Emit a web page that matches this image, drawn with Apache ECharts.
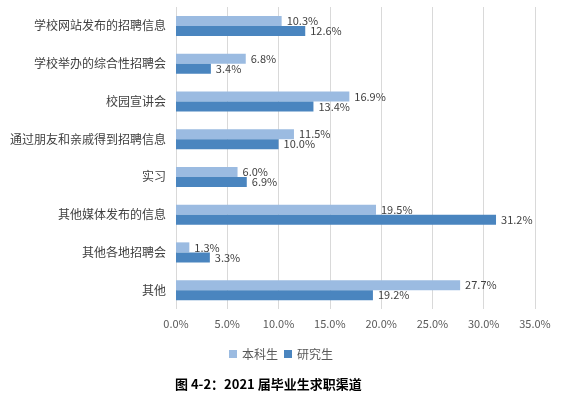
<!DOCTYPE html>
<html>
<head>
<meta charset="utf-8">
<script src="https://cdn.jsdelivr.net/npm/echarts@6/dist/echarts.min.js"></script>
<style>
  html, body { margin: 0; padding: 0; background: #fff; }
  #main { width: 562px; height: 399px; }
</style>
</head>
<body>
<div id="main"></div>
<script>
// 求职渠道
const categories = [
  '学校网站发布的招聘信息',
  '学校举办的综合性招聘会',
  '校园宣讲会',
  '通过朋友和亲戚得到招聘信息',
  '实习',
  '其他媒体发布的信息',
  '其他各地招聘会',
  '其他'
]
const undergrad = [10.3, 6.8, 16.9, 11.5, 6.0, 19.5, 1.3, 27.7]
const graduate = [12.6, 3.4, 13.4, 10.0, 6.9, 31.2, 3.3, 19.2]
const seriesNames = ['本科生', '研究生']
const caption = '图 4-2：2021 届毕业生求职渠道'

const chart = echarts.init(document.getElementById('main'), null, { renderer: 'canvas' })

const labelStyle = {
  show: true,
  position: 'right',
  distance: 5,
  color: '#404040',
  fontSize: 11,
  fontFamily: 'Noto Sans CJK SC',
  formatter(p) {
    return p.value.toFixed(1) + '%'
  }
}

chart.setOption({
  backgroundColor: '#fff',
  animation: false,
  color: ['#9bbbe1', '#4a85bf'],
  title: {
    text: caption,
    left: 175,
    top: 378,
    padding: 0,
    textStyle: {
      fontSize: 13,
      fontWeight: 'bold',
      color: '#000',
      fontFamily: 'Noto Sans CJK SC'
    }
  },
  legend: {
    data: seriesNames,
    left: 224,
    top: 343,
    itemWidth: 8,
    itemHeight: 8,
    itemGap: 6,
    icon: 'rect',
    textStyle: {
      fontSize: 12,
      color: '#595959',
      fontFamily: 'Noto Sans CJK SC'
    }
  },
  grid: {
    left: 176,
    right: 27,
    top: 7,
    bottom: 90
  },
  xAxis: {
    type: 'value',
    min: 0,
    max: 35,
    interval: 5,
    axisLine: { show: false },
    axisTick: { show: false },
    axisLabel: {
      margin: 9,
      color: '#595959',
      fontSize: 11,
      fontFamily: 'Noto Sans CJK SC',
      formatter(v) {
        return v.toFixed(1) + '%'
      }
    },
    splitLine: {
      lineStyle: { color: '#d9d9d9', width: 1 }
    }
  },
  yAxis: {
    type: 'category',
    inverse: true,
    data: categories,
    axisLine: { show: false },
    axisTick: { show: false },
    axisLabel: {
      margin: 10,
      color: '#404040',
      fontSize: 12,
      fontFamily: 'Noto Sans CJK SC'
    }
  },
  series: [
    {
      name: seriesNames[0],
      type: 'bar',
      data: undergrad,
      barWidth: 10,
      barGap: '0%',
      barCategoryGap: '47%',
      label: labelStyle
    },
    {
      name: seriesNames[1],
      type: 'bar',
      data: graduate,
      barWidth: 10,
      barGap: '0%',
      label: labelStyle
    }
  ]
})
</script>
</body>
</html>
